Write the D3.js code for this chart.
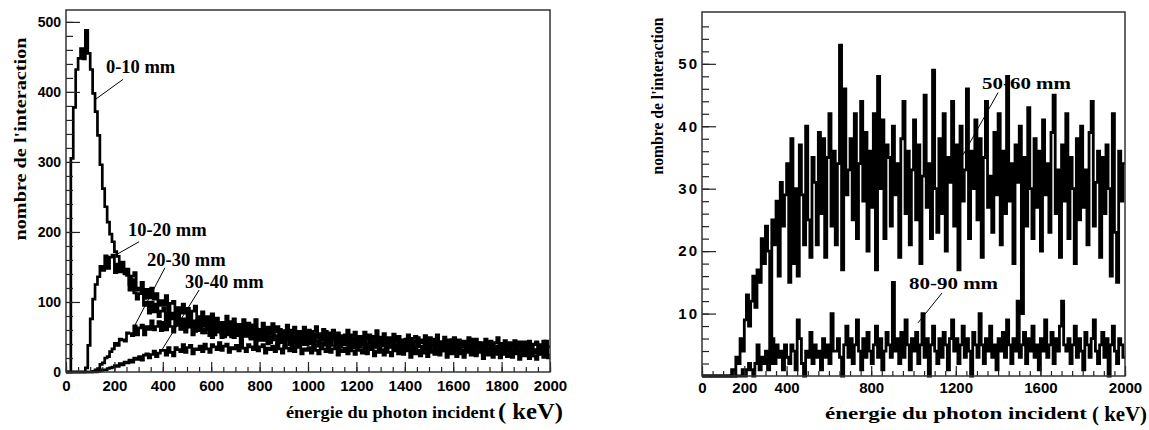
<!DOCTYPE html>
<html>
<head>
<meta charset="utf-8">
<script src="https://cdn.jsdelivr.net/npm/d3@7"></script>
<style>
  body { margin: 0; background: #fff; }
</style>
</head>
<body>
<svg width="1149" height="430"></svg>
<script>
// histogram bins are 10 keV wide, 0..2000 keV
const binWidth = 10;
const energyMax = 2000;

// left panel : counts per bin for each depth slice
const depth0_10 = [0,0,305,378,432,448,462,447,488,455, 432,398,372,338,296,262,236,214,197,186,
  172,165,156,147,141,138,117,132,113,104, 112,117,95,100,84,100,86,97,79,87,
  92,68,84,76,84,67,87,69,75,63, 81,64,73,58,74,79,62,56,66,71,
  49,67,59,71,54,50,66,60,50,69, 52,61,44,62,64,52,47,67,44,55,
  61,45,54,40,57,62,46,41,51,57, 36,53,46,58,42,37,54,48,39,58,
  42,50,34,52,55,42,38,58,36,47, 52,38,46,35,49,53,40,36,45,49,
  32,47,40,50,37,34,48,43,35,50, 37,44,31,46,48,38,35,51,33,42,
  47,34,41,30,44,49,36,32,41,46, 28,43,37,46,33,30,44,39,31,46,
  33,41,27,42,44,34,31,47,29,38, 42,31,37,27,40,44,32,28,37,41,
  25,39,33,42,29,26,40,35,28,43, 30,37,25,39,41,31,28,44,27,36];
const depth10_20 = [0,0,0,0,0,0,0,0,6,38, 76,104,125,136,151,145,166,148,164,167,
  142,154,143,157,140,147,125,137,142,117, 120,128,105,118,106,120,104,112,95,102,
  96,109,87,98,101,80,92,84,97,84, 91,74,87,94,74,78,86,66,79,69,
  83,70,77,63,71,66,80,61,72,76, 56,68,61,75,64,70,55,67,75,57,
  60,70,51,64,55,69,57,65,52,59, 54,67,50,60,64,47,58,52,64,54,
  60,47,58,65,48,53,61,44,56,48, 60,50,56,45,52,47,60,44,53,57,
  41,51,46,57,48,53,42,51,59,43, 47,55,40,49,43,54,44,51,40,46,
  43,53,39,48,51,37,46,42,52,43, 49,38,47,53,39,43,50,37,46,40,
  49,42,46,36,43,38,49,35,44,47, 34,42,37,47,39,43,34,42,49,35,
  39,45,33,41,36,45,36,43,33,39, 35,44,32,40,43,31,39,35,44,36];
const depth20_30 = [0,0,0,0,0,0,0,0,0,0, 0,1,3,5,11,13,20,22,29,33,
  41,38,47,46,44,56,55,52,66,53, 63,67,53,65,61,73,60,65,72,59,
  71,60,76,65,57,72,67,61,76,57, 67,71,53,65,59,73,56,61,69,52,
  64,53,68,57,49,64,59,53,68,49, 60,63,45,58,51,65,49,54,62,45,
  57,46,61,50,42,57,52,46,61,42, 52,55,39,50,44,57,42,47,54,39,
  50,40,54,44,37,50,46,41,54,38, 47,50,34,45,39,51,38,42,49,34,
  45,35,49,39,32,46,41,36,49,33, 42,45,30,41,35,47,33,37,44,31,
  40,31,45,35,28,41,37,32,45,29, 39,41,27,37,32,43,31,34,40,27,
  37,29,41,32,26,38,34,30,41,27, 35,38,25,34,29,40,28,31,37,25,
  34,27,38,30,24,35,32,28,38,25, 33,35,23,32,27,37,26,29,35,24];
const depth30_40 = [0,0,0,0,0,0,0,0,0,0, 0,0,0,1,2,3,3,5,6,7,
  9,8,12,10,14,13,17,14,20,18, 22,17,24,26,20,25,30,22,27,31,
  31,24,35,28,23,35,32,29,39,28, 35,38,26,33,32,37,29,40,33,28,
  39,36,32,42,31,37,40,28,35,33, 38,30,41,34,29,39,36,32,41,30,
  36,39,27,34,32,37,29,40,33,27, 37,34,30,40,29,35,38,26,33,31,
  35,27,38,31,26,36,33,29,39,28, 33,36,24,31,29,34,26,37,30,25,
  34,31,27,37,26,32,35,23,30,28, 32,24,35,28,23,33,30,26,36,25,
  30,33,21,28,26,31,23,34,27,22, 32,29,25,35,24,30,33,21,28,26,
  30,22,33,26,21,31,28,24,34,23, 28,31,19,26,24,29,21,32,25,20,
  29,26,22,32,21,27,30,18,25,23, 27,19,30,23,18,28,25,21,31,20];

// right panel
const depth50_60 = [0,0,0,0,0,0,0,0,0,0, 0,0,0,0,1,0,3,2,6,4,
  9,13,8,12,16,11,17,15,22,18, 24,20,2,25,21,28,16,31,24,29,
  34,15,38,18,30,16,37,29,21,40, 25,19,35,31,21,39,26,38,19,35,
  42,24,36,21,34,53,17,46,29,33, 38,25,42,22,34,44,28,39,20,36,
  27,42,17,48,30,41,22,37,35,24, 40,29,34,19,38,44,26,36,21,33,
  41,25,37,18,32,45,27,34,22,49, 30,23,38,26,42,20,35,31,44,24,
  37,17,40,28,33,46,22,36,30,41, 25,38,19,35,44,27,32,23,39,29,
  42,21,36,26,48,28,34,18,37,31, 40,10,35,24,43,30,22,38,27,36,
  20,41,29,34,23,39,45,26,33,19, 37,28,42,22,35,30,18,38,25,40,
  27,33,21,39,44,24,31,36,19,35, 26,37,30,16,42,23,15,36,28,34];
const depth80_90 = [0,0,0,0,0,0,0,0,0,0, 0,0,0,0,0,0,0,0,0,1,
  0,1,2,1,0,2,5,1,3,2, 4,1,3,6,2,5,3,4,1,5,
  3,2,5,4,1,9,6,2,0,4, 3,7,2,5,3,4,1,6,3,5,
  2,10,4,4,6,3,0,5,8,3, 6,2,5,9,4,1,6,3,7,4,
  2,5,8,3,6,1,4,7,5,3, 15,4,6,2,7,3,9,5,1,6,
  4,7,2,5,10,3,6,0,5,8, 4,2,6,3,7,5,1,6,9,4,
  6,2,5,8,3,6,4,0,7,5, 3,10,5,2,6,4,8,3,5,1,
  6,4,7,3,9,5,2,6,4,12, 3,5,7,2,6,4,8,3,5,1,
  6,4,9,3,5,7,2,6,4,8, 12,5,4,6,2,5,8,3,6,4,
  1,7,5,3,6,9,4,2,5,7, 3,6,0,5,8,4,2,6,5,3];

// ticks
const leftYTicks = [0, 100, 200, 300, 400, 500];
const leftXTicks = [0, 200, 400, 600, 800, 1000, 1200, 1400, 1600, 1800, 2000];
const rightYTicks = [10, 20, 30, 40, 50];
const rightXTicks = [0, 200, 400, 800, 1200, 1600, 2000];

// labels : text anchored at (keV, count), pointer from -> to in data units
const leftNotes = [
  { label: "0-10 mm", at: [165, 427], from: [236, 418], to: [116, 388] },
  { label: "10-20 mm", at: [256, 194], from: [302, 186], to: [215, 169] },
  { label: "20-30 mm", at: [335, 151], from: [409, 149], to: [285, 67] },
  { label: "30-40 mm", at: [492, 120], from: [550, 117], to: [388, 27] }
];
const rightNotes = [
  { label: "50-60 mm", at: [1324, 46.0], from: [1400, 45.4], to: [1234, 35.4] },
  { label: "80-90 mm", at: [979, 13.9], from: [1135, 13.3], to: [1021, 8.5] }
];

const svg = d3.select("svg");
const serif = "'Liberation Serif', 'Times New Roman', serif";
const sans = "'Liberation Sans', Arial, sans-serif";

function histPoints(values) {
  let pts = values.map((v, i) => [i * binWidth, v]);
  pts.push([values.length * binWidth, values[values.length - 1]]);
  return pts;
}

function drawPanel(p) {
  const x = d3.scaleLinear().domain([0, energyMax]).range([p.left, p.right]);
  const y = d3.scaleLinear().domain([0, p.yMax]).range([p.bottom, p.top]);
  const g = svg.append("g");

  // histograms
  const line = d3.line()
    .x(d => x(d[0]))
    .y(d => y(d[1]))
    .curve(d3.curveStepAfter);
  p.series.forEach(s => {
    g.append("path")
      .attr("d", line(histPoints(s)))
      .attr("fill", "none")
      .attr("stroke", "#000")
      .attr("stroke-width", p.lineWidth);
  });

  // axes, ticks pointing inside the frame
  const axes = g.append("g").attr("font-family", sans).attr("font-weight", "bold");
  axes.append("g").attr("transform", `translate(${p.left},0)`)
    .call(d3.axisLeft(y).tickValues(p.yMinor).tickSize(-7).tickFormat(""));
  axes.append("g").attr("class", "ylab").attr("transform", `translate(${p.left},0)`)
    .call(d3.axisLeft(y).tickValues(p.yTicks).tickSize(-14).tickPadding(p.yPad).tickFormat(d3.format("d")));
  axes.append("g").attr("transform", `translate(0,${p.bottom})`)
    .call(d3.axisBottom(x).tickValues(p.xMinor).tickSize(-5).tickFormat(""));
  axes.append("g").attr("class", "xlab").attr("transform", `translate(0,${p.bottom})`)
    .call(d3.axisBottom(x).tickValues(p.xTicks).tickSize(-10).tickPadding(p.xPad).tickFormat(d3.format("d")));
  axes.selectAll(".domain").remove();
  axes.selectAll("line").attr("stroke", "#222").attr("stroke-width", 1.2);
  axes.selectAll(".ylab text").attr("font-size", p.yFont).attr("font-family", sans)
    .attr("letter-spacing", p.yLetter);
  axes.selectAll(".xlab text").attr("font-size", 15).attr("font-family", sans);

  // frame
  g.append("rect")
    .attr("x", p.left).attr("y", p.top)
    .attr("width", p.right - p.left).attr("height", p.bottom - p.top)
    .attr("fill", "none").attr("stroke", "#333").attr("stroke-width", 1.5);

  // annotations
  p.notes.forEach(n => {
    g.append("line")
      .attr("x1", x(n.from[0])).attr("y1", y(n.from[1]))
      .attr("x2", x(n.to[0])).attr("y2", y(n.to[1]))
      .attr("stroke", "#000").attr("stroke-width", 1);
    const t = g.append("text")
      .attr("x", x(n.at[0])).attr("y", y(n.at[1]))
      .attr("font-family", serif).attr("font-weight", "bold")
      .attr("font-size", p.noteFont)
      .text(n.label);
    if (p.noteLen) t.attr("textLength", p.noteLen).attr("lengthAdjust", "spacingAndGlyphs");
  });

  // axis titles
  svg.append("text")
    .attr("transform", `translate(${p.yTitle.x},${p.yTitle.y}) rotate(-90)`)
    .attr("text-anchor", "middle")
    .attr("font-family", serif).attr("font-weight", "bold")
    .attr("font-size", p.yTitle.size)
    .attr("textLength", p.yTitle.len).attr("lengthAdjust", "spacingAndGlyphs")
    .text("nombre de l'interaction");
  svg.append("text")
    .attr("x", p.xTitle.x).attr("y", p.xTitle.y)
    .attr("font-family", serif).attr("font-weight", "bold")
    .attr("font-size", p.xTitle.size)
    .attr("textLength", p.xTitle.len).attr("lengthAdjust", "spacingAndGlyphs")
    .text("énergie du photon incident");
  svg.append("text")
    .attr("x", p.unit.x).attr("y", p.unit.y)
    .attr("font-family", serif).attr("font-weight", "bold")
    .attr("font-size", p.unit.size)
    .attr("textLength", p.unit.len).attr("lengthAdjust", "spacingAndGlyphs")
    .text("( keV)");
}

drawPanel({
  left: 66, right: 550, top: 10, bottom: 372, yMax: 517,
  series: [depth30_40, depth20_30, depth10_20, depth0_10],
  lineWidth: 2.7,
  yTicks: leftYTicks, yMinor: d3.range(0, 517, 20), yPad: 5, yFont: 14, yLetter: 0,
  xTicks: leftXTicks, xMinor: d3.range(0, 2001, 50), xPad: 8,
  notes: leftNotes, noteFont: 18.5,
  yTitle: { x: 26, y: 139, size: 17.5, len: 203 },
  xTitle: { x: 286, y: 418, size: 17.5, len: 209 },
  unit: { x: 498, y: 419, size: 23, len: 65 }
});

drawPanel({
  left: 702, right: 1125, top: 12, bottom: 376, yMax: 58.3,
  series: [depth50_60, depth80_90],
  lineWidth: 2.8,
  yTicks: rightYTicks, yMinor: d3.range(0, 58, 2), yPad: 3, yFont: 15, yLetter: 2,
  xTicks: rightXTicks, xMinor: d3.range(0, 2001, 50), xPad: 6,
  notes: rightNotes, noteFont: 17, noteLen: 89,
  yTitle: { x: 663, y: 96, size: 17, len: 157 },
  xTitle: { x: 825, y: 419, size: 17, len: 262 },
  unit: { x: 1092, y: 421, size: 20, len: 55 }
});
</script>
</body>
</html>
